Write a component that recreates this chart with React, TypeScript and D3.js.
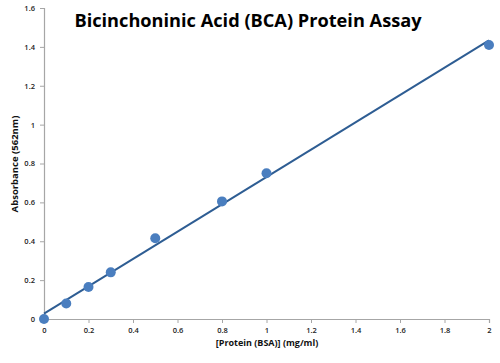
import React, { useEffect, useRef } from 'react';
import * as d3 from 'd3';

const concentrations = [0, 0.1, 0.2, 0.3, 0.5, 0.8, 1.0, 2.0];
const absorbances = [0, 0.08, 0.165, 0.24, 0.415, 0.605, 0.75, 1.41];
const xTicks = [0, 0.2, 0.4, 0.6, 0.8, 1, 1.2, 1.4, 1.6, 1.8, 2];
const yTicks = [0, 0.2, 0.4, 0.6, 0.8, 1, 1.2, 1.4, 1.6];

const WIDTH = 500;
const HEIGHT = 363;
const FONT = '"Open Sans", "Noto Sans", sans-serif';

const App: React.FC = () => {
    const svgRef = useRef<SVGSVGElement>(null);

    useEffect(() => {
        if (!svgRef.current) return;
        const svg = d3.select(svgRef.current);
        svg.selectAll('*').remove();

        const x = d3.scaleLinear().domain([0, 2]).range([44, 489]);
        const y = d3.scaleLinear().domain([0, 1.6]).range([319, 8]);

        // linear fit (least squares)
        const mx = d3.mean(concentrations) as number;
        const my = d3.mean(absorbances) as number;
        const sxy = d3.sum(concentrations, (c, i) => (c - mx) * (absorbances[i] - my));
        const sxx = d3.sum(concentrations, c => (c - mx) ** 2);
        const slope = sxy / sxx;
        const intercept = my - slope * mx;

        const axisColor = '#a6a6a6';

        // y axis
        const yAxis = svg.append('g').attr('transform', 'translate(44,0)')
            .call(d3.axisLeft(y).tickValues(yTicks).tickSize(4).tickPadding(5).tickFormat(d => String(d)));
        // x axis
        const xAxis = svg.append('g').attr('transform', 'translate(0,319)')
            .call(d3.axisBottom(x).tickValues(xTicks).tickSize(4).tickPadding(5).tickFormat(d => String(d)));

        [yAxis, xAxis].forEach(ax => {
            ax.select('.domain').attr('stroke', axisColor).attr('stroke-width', 1.2);
            ax.selectAll('.tick line').attr('stroke', axisColor);
            ax.selectAll('.tick text')
                .attr('fill', '#222')
                .style('font-family', FONT)
                .style('font-size', '7.5px')
                .style('font-weight', '600');
        });

        // trend line
        svg.append('line')
            .attr('x1', x(0)).attr('y1', y(intercept))
            .attr('x2', x(2)).attr('y2', y(intercept + slope * 2))
            .attr('stroke', '#2e5d93')
            .attr('stroke-width', 2);

        // points
        svg.selectAll('circle.pt')
            .data(concentrations)
            .enter()
            .append('circle')
            .attr('class', 'pt')
            .attr('cx', d => x(d))
            .attr('cy', (_, i) => y(absorbances[i]))
            .attr('r', 5)
            .attr('fill', '#4a7ebf');

        // title
        svg.append('text')
            .attr('x', 248).attr('y', 27)
            .attr('text-anchor', 'middle')
            .style('font-family', FONT)
            .style('font-size', '18.2px')
            .style('font-weight', '700')
            .attr('fill', '#000')
            .text('Bicinchoninic Acid (BCA) Protein Assay');

        // axis titles
        svg.append('text')
            .attr('x', 267).attr('y', 346)
            .attr('text-anchor', 'middle')
            .style('font-family', FONT)
            .style('font-size', '9px')
            .style('font-weight', '700')
            .attr('fill', '#111')
            .text('[Protein (BSA)] (mg/ml)');

        svg.append('text')
            .attr('transform', 'translate(18,164) rotate(-90)')
            .attr('text-anchor', 'middle')
            .style('font-family', FONT)
            .style('font-size', '9.5px')
            .style('font-weight', '700')
            .attr('fill', '#111')
            .text('Absorbance (562nm)');
    }, []);

    return (
        <div style={{ position: 'absolute', left: 0, top: 0, width: WIDTH, height: HEIGHT, background: '#fff' }}>
            <svg ref={svgRef} width={WIDTH} height={HEIGHT} />
        </div>
    );
};

export default App;
